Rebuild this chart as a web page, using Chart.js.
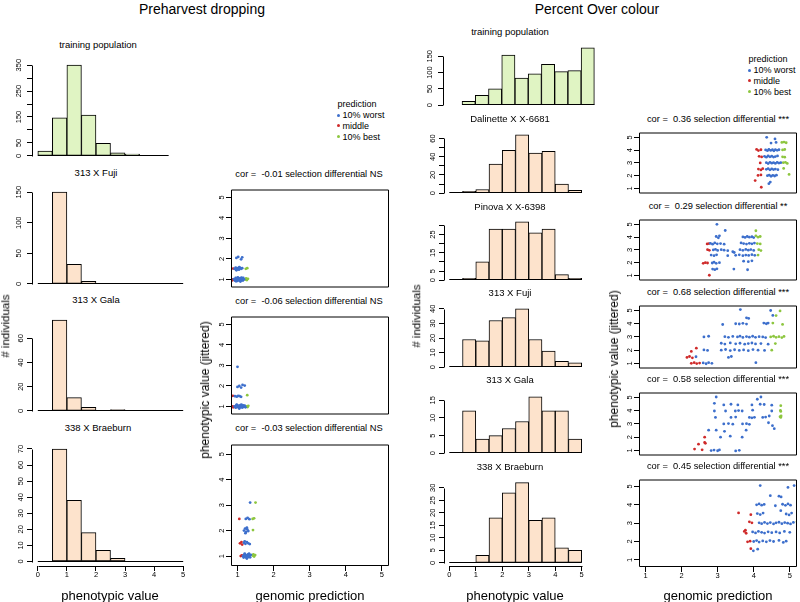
<!DOCTYPE html>
<html>
<head>
<meta charset="utf-8">
<script src="https://cdn.jsdelivr.net/npm/chart.js@4.4.0/dist/chart.umd.min.js"></script>
<style>
  body { margin: 0; background: #fff; }
  #fig { position: relative; width: 800px; height: 602px; overflow: hidden; font-family: "Liberation Sans", Arial, sans-serif; color: #000; }
  #fig canvas { position: absolute; }
  .t { position: absolute; white-space: pre; transform: translate(-50%, -50%); line-height: 1; }
  .v { transform: translate(-50%, -50%) rotate(-90deg); }
  .dot { position: absolute; width: 3px; height: 3px; border-radius: 50%; }
</style>
</head>
<body>
<div id="fig"></div>
<script>
// ---------- data ----------
const groups = ["10% worst", "middle", "10% best"];

// histogram bins (left edge of each 0.5-wide bin)
const binsFrom0 = [0, 0.5, 1, 1.5, 2, 2.5, 3, 3.5, 4, 4.5];
const binsTrainPH = [0, 0.5, 1, 1.5, 2, 2.5, 3, 3.5, 4];
const binsTrainPOC = [0.5, 1, 1.5, 2, 2.5, 3, 3.5, 4, 4.5, 5];

// Preharvest dropping counts
const phTrain = [18, 147, 350, 157, 48, 12, 7, 0, 0];
const phFuji = [0, 150, 32, 4, 0, 1, 0, 0, 0, 0];
const phGala = [0, 75, 11, 3, 0, 1, 0, 0, 0, 0];
const phBraeburn = [0, 70, 38, 18, 7, 2, 0, 0, 0, 0];

// Percent Over colour counts
const pocTrain = [12, 30, 50, 154, 83, 96, 125, 103, 106, 176];
const pocDalinette = [0, 2, 4, 32, 47, 64, 44, 46, 10, 3];
const pocPinova = [0, 1, 10, 28, 28, 32, 26, 28, 3, 1];
const pocFuji = [0, 19, 18, 32, 34, 40, 19, 11, 4, 3];
const pocGala = [0, 12, 4, 5, 7, 9, 16, 12, 12, 4];
const pocBraeburn = [0, 0, 3, 18, 28, 32, 17, 18, 6, 5];

// y tick values and the ones that carry a label
const phTrainTicks = [0, 50, 100, 150, 200, 250, 300, 350], phTrainLabels = [0, 50, 150, 250, 350];
const phFujiTicks = [0, 50, 100, 150], phFujiLabels = [0, 50, 100, 150];
const phGalaTicks = [0, 20, 40, 60], phGalaLabels = [0, 20, 40, 60];
const phBraeburnTicks = [0, 10, 20, 30, 40, 50, 60, 70], phBraeburnLabels = [0, 10, 20, 30, 40, 50, 60, 70];
const pocTrainTicks = [0, 50, 100, 150], pocTrainLabels = [0, 50, 100, 150];
const pocDalinetteTicks = [0, 10, 20, 30, 40, 50, 60], pocDalinetteLabels = [0, 20, 40, 60];
const pocPinovaTicks = [0, 5, 10, 15, 20, 25, 30], pocPinovaLabels = [0, 5, 15, 25];
const pocFujiTicks = [0, 10, 20, 30, 40], pocFujiLabels = [0, 10, 20, 30, 40];
const pocGalaTicks = [0, 5, 10, 15], pocGalaLabels = [0, 5, 10, 15];
const pocBraeburnTicks = [0, 5, 10, 15, 20, 25, 30], pocBraeburnLabels = [0, 5, 10, 15, 20, 25, 30];
const histXTicks = [0, 1, 2, 3, 4, 5];
const scatterTicks = [1, 2, 3, 4, 5];

// scatter: [genomic prediction, phenotypic value (jittered)]
const phFujiWorst = [[0.9,1.02],[0.93,0.95],[0.95,1.08],[0.97,0.98],[0.99,1.05],[1.0,0.93],[1.02,1.01],[1.04,1.07],[1.05,0.96],[1.07,1.03],[1.09,0.94],[1.1,1.06],[1.12,0.99],[1.13,1.04],[1.15,0.95],[1.16,1.08],[0.94,1.0],[1.01,1.1],[1.08,0.9],[1.18,1.01],[0.96,0.91],[1.11,1.09],
  [0.92,1.52],[0.95,1.58],[0.98,1.5],[1.01,1.55],[1.04,1.48],[1.07,1.57],[1.1,1.52],[1.13,1.55],[0.97,1.45],[1.05,1.6],
  [0.97,2.05],[1.02,2.1],[1.1,1.98],[1.13,2.08]];
const phFujiMiddle = [[0.87,1.0],[0.88,1.53],[0.86,0.96]];
const phFujiBest = [[1.22,1.0],[1.26,0.97],[1.29,1.03],[1.24,1.05],[1.27,1.55],[1.23,1.52]];

const phGalaWorst = [[0.92,1.0],[0.95,0.94],[0.97,1.06],[1.0,0.98],[1.02,1.04],[1.04,0.93],[1.06,1.02],[1.08,1.07],[1.1,0.96],[1.12,1.03],[1.14,0.95],[1.16,1.05],[1.18,0.99],[1.2,1.04],[0.98,1.09],[1.05,0.9],[1.11,1.09],[1.22,0.96],
  [0.93,1.5],[0.98,1.48],[1.02,1.52],[1.06,1.5],[1.1,1.47],
  [1.0,1.95],[1.05,2.0],[1.1,1.92],[1.14,2.05],[1.2,2.02],[1.0,2.93]];
const phGalaMiddle = [[0.87,1.0],[0.87,1.52],[0.88,0.96]];
const phGalaBest = [[1.25,1.0],[1.28,0.97],[1.3,1.03],[1.27,1.55]];

const phBraeburnWorst = [[1.35,3.1],[1.23,2.46],[1.28,2.5],[1.33,2.45],
  [1.18,2.0],[1.21,2.08],[1.24,1.95],[1.27,2.05],[1.3,1.98],[1.22,1.9],[1.26,2.12],
  [1.18,1.52],[1.22,1.48],[1.26,1.55],[1.3,1.5],[1.34,1.47],[1.2,1.58],
  [1.15,1.0],[1.17,0.94],[1.19,1.06],[1.21,0.98],[1.23,1.04],[1.25,0.93],[1.27,1.02],[1.29,1.07],[1.31,0.96],[1.33,1.03],[1.35,0.95],[1.37,1.05],[1.2,1.09],[1.26,0.9],[1.32,1.09],[1.24,1.0],[1.3,1.0]];
const phBraeburnMiddle = [[1.05,2.46],[1.07,1.5],[1.11,1.55],[1.13,1.45],[1.09,1.0],[1.12,1.03]];
const phBraeburnBest = [[1.5,3.1],[1.42,2.46],[1.46,2.48],[1.43,2.02],[1.42,1.02],[1.46,0.98],[1.49,1.04],[1.44,1.07]];

const pocDalinetteWorst = [[4.36,5.0],[4.59,4.88],[4.48,4.55],[4.62,4.6],
  [4.33,4.02],[4.38,3.96],[4.42,4.05],[4.47,3.98],[4.52,4.03],[4.56,3.95],[4.6,4.04],[4.65,3.99],[4.7,4.03],
  [4.3,3.52],[4.35,3.45],[4.4,3.55],[4.45,3.48],[4.5,3.53],[4.55,3.46],[4.6,3.5],[4.66,3.55],
  [4.35,3.02],[4.4,2.95],[4.45,3.05],[4.5,2.98],[4.55,3.03],[4.6,2.96],[4.65,3.04],[4.7,2.99],[4.75,3.02],
  [4.35,2.5],[4.4,2.55],[4.45,2.46],[4.5,2.53],[4.55,2.48],[4.6,2.52],[4.67,2.47],
  [4.38,2.0],[4.43,2.05],[4.48,1.96],[4.53,2.03],[4.58,1.98],[4.63,2.04],[4.46,1.5],[4.42,1.38]];
const pocDalinetteMiddle = [[4.08,4.06],[4.13,3.97],[4.2,4.03],[4.15,3.52],[4.22,3.47],[4.18,3.0],[4.13,2.52],[4.2,2.45],[4.25,2.55],[4.12,2.02],[4.2,2.06],[4.04,1.62],[4.21,1.1]];
const pocDalinetteBest = [[4.78,4.6],[4.84,4.63],[4.9,4.58],[4.8,4.02],[4.86,4.05],[4.8,3.48],[4.86,3.45],[4.82,3.02],[4.88,3.05],[4.93,2.96],[4.83,2.57],[4.98,2.1]];

const pocPinovaWorst = [[2.98,5.0],[3.21,4.52],[2.96,4.05],[3.02,3.95],[3.05,4.1],
  [2.8,3.52],[2.86,3.45],[2.92,3.55],[2.99,3.48],[3.08,3.5],[3.18,3.45],
  [2.88,3.0],[2.94,3.05],[3.0,2.96],[3.1,3.02],[3.18,2.98],[3.28,2.94],[3.42,2.86],
  [2.82,2.6],[2.9,2.55],[2.97,2.62],[3.28,2.55],
  [2.85,1.98],[2.9,2.04],[2.96,1.95],[3.05,2.0],
  [2.86,1.5],[2.92,1.46],[2.98,1.52],[3.45,1.5],[3.83,1.45],
  [3.7,4.02],[3.76,3.98],[3.82,4.05],[3.88,4.0],[3.95,4.03],[4.0,3.97],
  [3.65,3.55],[3.72,3.5],[3.8,3.46],[3.88,3.52],[3.95,3.48],[4.02,3.54],
  [3.62,3.02],[3.7,2.97],[3.78,3.04],[3.85,2.98],[3.92,3.03],[4.0,2.96],
  [3.5,2.58],[3.6,2.62],[3.7,2.55],[3.78,2.6],[3.86,2.57],[3.95,2.63],[4.03,2.58],
  [3.72,2.12],[3.85,2.08],[3.95,2.15],[3.46,2.8]];
const pocPinovaMiddle = [[2.71,3.47],[2.76,3.5],[2.72,3.02],[2.77,2.97],[2.6,1.95],[2.66,2.0],[2.72,1.98],[2.77,1.02]];
const pocPinovaBest = [[4.06,4.5],[4.06,4.1],[4.12,4.0],[4.18,4.05],[4.1,3.5],[4.18,3.47],[4.14,3.02],[4.2,2.95],[4.12,2.6]];

const pocFujiWorst = [[3.63,5.07],[4.47,5.0],[4.53,4.63],[3.8,4.45],[3.86,4.4],
  [3.14,3.94],[3.5,4.0],[3.6,3.98],[3.7,4.03],[3.8,3.97],[4.28,4.05],[4.35,4.0],[4.4,4.05],
  [2.62,3.0],[2.75,3.05],[3.2,3.02],[3.3,2.97],[3.42,3.04],[3.55,3.0],[3.62,3.06],[3.7,2.96],[3.8,3.03],[3.88,2.98],[3.97,3.05],[4.05,2.97],[4.15,3.02],[4.25,3.0],[4.33,2.95],
  [3.1,2.52],[3.2,2.46],[3.35,2.55],[3.5,2.48],[3.62,2.52],[3.75,2.45],[3.85,2.5],[3.95,2.54],[4.05,2.47],[4.2,2.5],[4.4,2.45],
  [2.62,2.02],[2.72,1.98],[3.1,2.0],[3.22,2.05],[3.35,1.97],[3.47,2.03],[3.6,1.98],[3.72,2.02],[3.85,1.96],[3.98,2.04],[4.12,2.0],[4.3,1.98],
  [2.4,1.5],[3.3,1.45],[3.38,1.52],[2.6,1.03],[2.68,0.97],[2.75,1.05],[2.84,1.0],[4.06,1.05]];
const pocFujiMiddle = [[2.27,1.9],[2.41,2.15],[2.15,1.45],[2.22,1.52],[2.3,1.42],[2.27,1.0],[2.35,1.05],[2.42,0.98],[2.5,1.02]];
const pocFujiBest = [[4.73,4.97],[4.62,4.62],[4.53,4.05],[4.8,3.95],[4.47,3.0],[4.55,3.05],[4.62,2.97],[4.7,3.02],[4.78,2.95],[4.84,3.04],[4.5,2.0],[4.6,2.5]];

const pocGalaWorst = [[2.96,5.04],[4.2,5.04],[4.1,4.87],
  [2.91,4.56],[3.17,4.44],[3.37,4.49],[3.56,4.44],[3.95,4.44],[4.18,4.49],[4.29,4.47],[4.5,4.42],
  [2.91,3.98],[3.22,3.98],[3.49,3.98],[3.58,4.01],[3.68,3.98],[3.97,4.04],[4.5,3.98],
  [2.94,3.49],[3.37,3.49],[3.5,3.52],[3.88,3.49],[3.95,3.46],[4.02,3.5],[4.25,3.49],[4.33,3.52],[4.43,3.6],
  [3.17,3.0],[3.3,3.03],[3.42,2.98],[3.69,3.0],[3.8,3.02],[3.88,2.97],[4.41,3.09],[4.52,2.87],
  [2.75,2.53],[2.96,2.53],[3.19,2.44],[3.79,2.53],[4.57,2.64],
  [3.08,2.0],[3.35,2.07],[3.68,2.0],
  [2.82,0.98],[2.9,1.02],[3.0,0.97],[3.05,1.03],[3.5,0.96],[3.6,1.0]];
const pocGalaMiddle = [[2.64,2.0],[2.47,1.47],[2.66,1.53],[2.64,1.6],[2.36,1.1],[2.57,1.04]];
const pocGalaBest = [[4.75,4.38],[4.75,3.95],[4.74,4.02],[4.75,3.49],[4.73,3.55],[4.76,3.6]];

const pocBraeburnWorst = [[4.18,5.05],[4.95,4.95],[5.12,5.05],[4.46,4.5],[4.7,4.47],[4.76,4.43],
  [4.08,4.0],[4.15,4.05],[4.22,3.98],[4.29,4.02],[4.6,3.95],[4.8,4.03],[4.88,3.97],[4.95,4.05],[5.02,3.98],
  [4.1,3.52],[4.18,3.47],[4.26,3.55],[4.75,3.68],[4.9,3.5],[4.98,3.45],[5.05,3.55],
  [4.15,3.02],[4.22,2.97],[4.3,3.04],[4.38,2.98],[4.46,3.03],[4.55,2.96],[4.62,3.02],[4.7,3.05],[4.78,2.97],[4.86,3.03],[4.94,3.0],[5.02,2.96],[5.1,3.04],
  [3.97,2.52],[4.05,2.47],[4.13,2.55],[4.22,2.5],[4.3,2.46],[4.4,2.53],[4.5,2.48],[4.62,2.52],[4.72,2.47],[4.85,2.55],[5.0,2.5],
  [4.0,2.0],[4.08,2.05],[4.15,1.97],[4.25,2.03],[4.35,1.98],[4.45,2.05],[4.55,2.0],[4.7,2.06],[4.82,1.95],[4.9,2.02],
  [3.99,1.49],[4.11,1.58]];
const pocBraeburnMiddle = [[3.58,3.56],[3.92,3.46],[3.88,3.07],[3.95,3.02],[3.74,2.55],[3.79,2.45],[3.77,2.62],[3.83,1.98],[3.9,2.02],[3.92,1.61]];
const pocBraeburnBest = [[5.2,3.07],[5.23,4.6]];

// ---------- drawing ----------
const fig = document.getElementById("fig");
const COLORS = ["#3d6fcc", "#cf2a2a", "#8dc63f"];
const GREEN_FILL = "#e0f4c3", PEACH_FILL = "#fde3cc";
const tickFont = { family: "'Liberation Sans', Arial, sans-serif", size: 7.5 };

const rFrame = {
  id: "rFrame",
  afterDatasetsDraw(chart, args, o) {
    const { ctx, chartArea: a, scales: { x, y } } = chart;
    ctx.save();
    ctx.strokeStyle = "#000";
    ctx.lineWidth = 1;
    ctx.beginPath();
    if (o.box) {
      ctx.rect(a.left + 0.5, a.top + 0.5, a.right - a.left - 1, a.bottom - a.top - 1);
    } else {
      const yt = y.ticks;
      ctx.moveTo(a.left + 0.5, Math.round(y.getPixelForValue(yt[0].value)) + 0.5);
      ctx.lineTo(a.left + 0.5, Math.round(y.getPixelForValue(yt[yt.length - 1].value)) + 0.5);
    }
    if (o.base) {
      const y0 = Math.round(y.getPixelForValue(0)) - 0.5;
      ctx.moveTo(x.getPixelForValue(o.base[0]), y0);
      ctx.lineTo(x.getPixelForValue(o.base[1]), y0);
    }
    if (o.xAxis) {
      const xt = x.ticks;
      ctx.moveTo(Math.round(x.getPixelForValue(xt[0].value)) + 0.5, a.bottom + 0.5);
      ctx.lineTo(Math.round(x.getPixelForValue(xt[xt.length - 1].value)) + 0.5, a.bottom + 0.5);
    }
    ctx.stroke();
    ctx.restore();
  }
};

function axis(min, max, ticks, labels, isY, show) {
  return {
    type: "linear", min, max, display: show, offset: false,
    border: { display: false },
    grid: { display: true, offset: false, drawOnChartArea: false, drawTicks: true, tickLength: 5, color: "#000" },
    afterBuildTicks: s => { s.ticks = ticks.map(v => ({ value: v })); },
    afterFit: s => {
      if (!show) { s.width = 0; s.height = 0; }
      else if (isY) s.width = 30;
      else s.height = 24;
    },
    ticks: {
      autoSkip: false, font: tickFont, color: "#000",
      padding: isY ? 2 : 4,
      minRotation: isY ? 90 : 0, maxRotation: isY ? 90 : 0,
      crossAlign: "center",
      callback: v => labels.includes(v) ? String(v) : ""
    }
  };
}

function place(box, showX) {
  const [l, t, r, b] = box.map(Math.round);
  const c = document.createElement("canvas");
  const w = r - l + 30 + 3, h = b - t + 3 + (showX ? 24 : 3);
  c.width = w; c.height = h;
  c.style.left = (l - 30) + "px"; c.style.top = (t - 3) + "px";
  c.style.width = w + "px"; c.style.height = h + "px";
  fig.appendChild(c);
  return c;
}

function hist(box, xr, bins, counts, fill, ticks, labels, showX) {
  const top = Math.max(...counts);
  new Chart(place(box, showX), {
    type: "bar",
    data: {
      datasets: [{
        data: bins.map((b, i) => ({ x: b + 0.25, y: counts[i] })),
        backgroundColor: fill, borderColor: "#000", borderWidth: 1, borderSkipped: false,
        barPercentage: 1, categoryPercentage: 1
      }]
    },
    options: {
      responsive: false, animation: false, events: [],
      layout: { padding: { top: 3, right: 3, left: 0, bottom: showX ? 0 : 3 } },
      plugins: { legend: { display: false }, tooltip: { enabled: false },
        rFrame: { base: [bins[0], bins[bins.length - 1] + 0.5], xAxis: showX } },
      scales: {
        x: axis(xr[0], xr[1], histXTicks, histXTicks, false, showX),
        y: axis(-0.04 * top, 1.04 * top, ticks, labels, true, true)
      }
    },
    plugins: [rFrame]
  });
}

function scatter(box, worst, middle, best, showX) {
  const sets = [worst, middle, best].map((pts, i) => ({
    label: groups[i],
    data: pts.map(p => ({ x: p[0], y: p[1] })),
    backgroundColor: COLORS[i], borderWidth: 0, pointRadius: 1.4
  }));
  new Chart(place(box, showX), {
    type: "scatter",
    data: { datasets: sets },
    options: {
      responsive: false, animation: false, events: [],
      layout: { padding: { top: 3, right: 3, left: 0, bottom: showX ? 0 : 3 } },
      plugins: { legend: { display: false }, tooltip: { enabled: false },
        rFrame: { box: true } },
      scales: {
        x: axis(0.82, 5.2, scatterTicks, scatterTicks, false, showX),
        y: axis(0.61, 5.38, scatterTicks, scatterTicks, true, true)
      }
    },
    plugins: [rFrame]
  });
}

function text(str, x, y, size, vertical) {
  const d = document.createElement("div");
  d.className = "t" + (vertical ? " v" : "");
  d.style.left = x + "px"; d.style.top = y + "px"; d.style.fontSize = size + "px";
  d.textContent = str;
  fig.appendChild(d);
}

function legend(x, y) {
  text("prediction", x + 19, y, 9);
  groups.forEach((g, i) => {
    const cy = y + 11 + i * 10.8;
    const d = document.createElement("div");
    d.className = "dot";
    d.style.left = (x - 1.5) + "px"; d.style.top = (cy - 1.5) + "px";
    d.style.background = COLORS[i];
    fig.appendChild(d);
    const s = document.createElement("div");
    s.className = "t";
    s.style.transform = "translate(0,-50%)";
    s.style.left = (x + 4.5) + "px"; s.style.top = cy + "px"; s.style.fontSize = "9px";
    s.textContent = g;
    fig.appendChild(s);
  });
}

// Preharvest dropping
const LX = [-0.2, 5.2];
hist([32, 58, 189, 163], LX, binsTrainPH, phTrain, GREEN_FILL, phTrainTicks, phTrainLabels, false);
hist([32, 185, 189, 291], LX, binsFrom0, phFuji, PEACH_FILL, phFujiTicks, phFujiLabels, false);
hist([32, 313, 189, 418], LX, binsFrom0, phGala, PEACH_FILL, phGalaTicks, phGalaLabels, false);
hist([32, 441, 189, 566], LX, binsFrom0, phBraeburn, PEACH_FILL, phBraeburnTicks, phBraeburnLabels, true);
scatter([231, 186, 390, 291], phFujiWorst, phFujiMiddle, phFujiBest, false);
scatter([231, 313, 390, 418], phGalaWorst, phGalaMiddle, phGalaBest, false);
scatter([231, 441, 390, 566], phBraeburnWorst, phBraeburnMiddle, phBraeburnBest, true);

// Percent Over colour
hist([443, 42, 597, 111], [-0.22, 5.6], binsTrainPOC, pocTrain, GREEN_FILL, pocTrainTicks, pocTrainLabels, false);
hist([444, 129, 587, 199], LX, binsFrom0, pocDalinette, PEACH_FILL, pocDalinetteTicks, pocDalinetteLabels, false);
hist([444, 216, 587, 286], LX, binsFrom0, pocPinova, PEACH_FILL, pocPinovaTicks, pocPinovaLabels, false);
hist([444, 303, 587, 373], LX, binsFrom0, pocFuji, PEACH_FILL, pocFujiTicks, pocFujiLabels, false);
hist([444, 391, 587, 459], LX, binsFrom0, pocGala, PEACH_FILL, pocGalaTicks, pocGalaLabels, false);
hist([444, 476, 587, 566], LX, binsFrom0, pocBraeburn, PEACH_FILL, pocBraeburnTicks, pocBraeburnLabels, true);
scatter([639, 129, 798, 197], pocDalinetteWorst, pocDalinetteMiddle, pocDalinetteBest, false);
scatter([639, 216, 798, 284], pocPinovaWorst, pocPinovaMiddle, pocPinovaBest, false);
scatter([639, 302, 798, 372], pocFujiWorst, pocFujiMiddle, pocFujiBest, false);
scatter([639, 389, 798, 459], pocGalaWorst, pocGalaMiddle, pocGalaBest, false);
scatter([639, 476, 798, 567], pocBraeburnWorst, pocBraeburnMiddle, pocBraeburnBest, true);

// text
text("Preharvest dropping", 202, 9, 14);
text("Percent Over colour", 597, 9, 14);
text("training population", 98, 45, 9.5);
text("313 X Fuji", 96, 173, 9.5);
text("313 X Gala", 96, 300, 9.5);
text("338 X Braeburn", 98, 428, 9.5);
text("cor =  -0.01 selection differential NS", 309, 175, 9.3);
text("cor =  -0.06 selection differential NS", 309, 302, 9.3);
text("cor =  -0.03 selection differential NS", 309, 429, 9.3);
text("training population", 510, 32, 9.5);
text("Dalinette X X-6681", 510, 119, 9.5);
text("Pinova X X-6398", 510, 207, 9.5);
text("313 X Fuji", 510, 293, 9.5);
text("313 X Gala", 510, 380, 9.5);
text("338 X Braeburn", 510, 467, 9.5);
text("cor =  0.36 selection differential ***", 718, 120, 9.3);
text("cor =  0.29 selection differential **", 718, 207, 9.3);
text("cor =  0.68 selection differential ***", 718, 293, 9.3);
text("cor =  0.58 selection differential ***", 718, 380, 9.3);
text("cor =  0.45 selection differential ***", 718, 467, 9.3);
text("# individuals", 6, 326, 11.5, true);
text("# individuals", 417, 316, 11.5, true);
text("phenotypic value (jittered)", 205, 390, 12, true);
text("phenotypic value (jittered)", 614, 359, 12, true);
text("phenotypic value", 110, 595, 13);
text("phenotypic value", 515, 595, 13);
text("genomic prediction", 310, 595, 13);
text("genomic prediction", 718, 595, 13);
legend(338, 104);
legend(749, 59);
</script>
</body>
</html>
